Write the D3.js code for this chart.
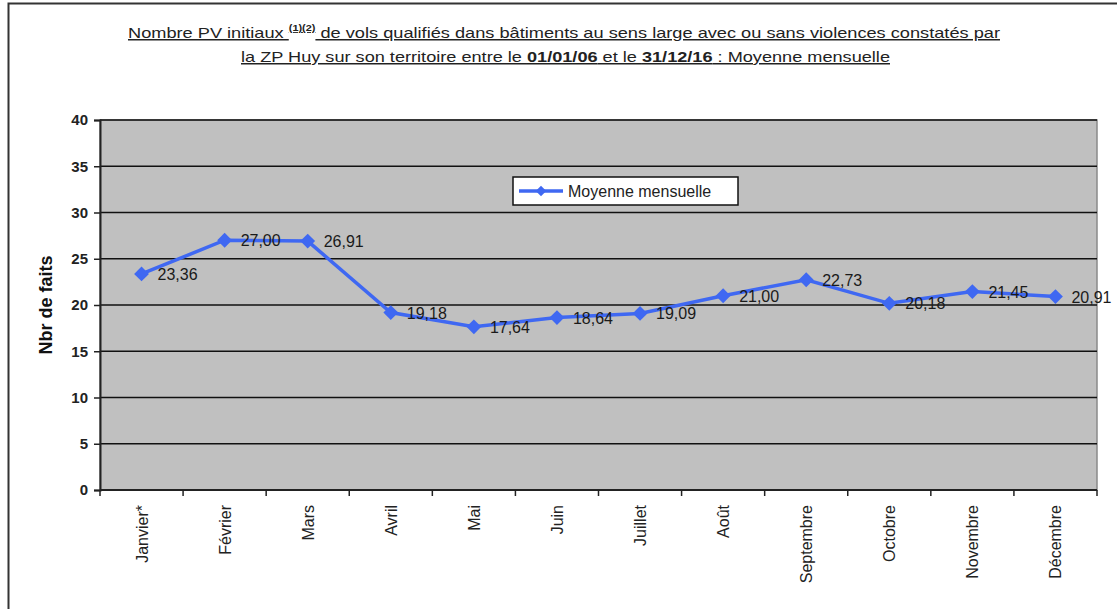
<!DOCTYPE html>
<html>
<head>
<meta charset="utf-8">
<script src="https://cdn.jsdelivr.net/npm/d3@7"></script>
<style>
  html, body { margin: 0; padding: 0; background: #fff; }
  svg { display: block; font-family: "Liberation Sans", Arial, sans-serif; }
</style>
</head>
<body>
<svg id="chart" width="1117" height="609"></svg>
<script>
// Monthly averages of initial reports, 2006–2016
const months = ["Janvier*", "Février", "Mars", "Avril", "Mai", "Juin", "Juillet", "Août", "Septembre", "Octobre", "Novembre", "Décembre"];
const moyenne = [23.36, 27.00, 26.91, 19.18, 17.64, 18.64, 19.09, 21.00, 22.73, 20.18, 21.45, 20.91];
const yTicks = [0, 5, 10, 15, 20, 25, 30, 35, 40];
const seriesName = "Moyenne mensuelle";
const yTitle = "Nbr de faits";

const svg = d3.select("#chart");
const W = 1117, H = 609;
const plot = { left: 100, top: 120, right: 1097, bottom: 490 };
const blue = "#3f68f2";

// outer frame
svg.append("rect")
  .attr("x", 8.5).attr("y", 3.5)
  .attr("width", W + 10).attr("height", H + 10)
  .attr("fill", "#fff").attr("stroke", "#333").attr("stroke-width", 2);

const x = d3.scaleBand().domain(months).range([plot.left, plot.right]);
const y = d3.scaleLinear().domain([0, 40]).range([plot.bottom, plot.top]);

// plot background
svg.append("rect")
  .attr("x", plot.left).attr("y", plot.top)
  .attr("width", plot.right - plot.left).attr("height", plot.bottom - plot.top)
  .attr("fill", "#c0c0c0").attr("stroke", "#8a8a8a").attr("stroke-width", 1.5);

// horizontal gridlines
svg.append("g").selectAll("line").data(yTicks.filter(d => d > 0)).join("line")
  .attr("x1", plot.left).attr("x2", plot.right)
  .attr("y1", d => y(d)).attr("y2", d => y(d))
  .attr("stroke", "#111").attr("stroke-width", 1.5);

// y axis
const yAxis = svg.append("g")
  .attr("transform", `translate(${plot.left},0)`)
  .call(d3.axisLeft(y).tickValues(yTicks).tickSize(6).tickPadding(6));
yAxis.select(".domain").attr("stroke", "#222").attr("stroke-width", 2);
yAxis.selectAll(".tick line").attr("stroke", "#222").attr("stroke-width", 1.5);
yAxis.selectAll(".tick text")
  .attr("font-family", "Liberation Sans, Arial, sans-serif")
  .attr("font-size", 15).attr("font-weight", "bold").attr("fill", "#222");

// x axis with ticks between categories
const xAxisG = svg.append("g");
xAxisG.append("line")
  .attr("x1", plot.left).attr("x2", plot.right)
  .attr("y1", plot.bottom).attr("y2", plot.bottom)
  .attr("stroke", "#222").attr("stroke-width", 2);
const bounds = months.map(m => x(m)).concat([plot.right]);
xAxisG.selectAll("line.tk").data(bounds).join("line")
  .attr("class", "tk")
  .attr("x1", d => d).attr("x2", d => d)
  .attr("y1", plot.bottom).attr("y2", plot.bottom + 6)
  .attr("stroke", "#222").attr("stroke-width", 1.5);
xAxisG.selectAll("text").data(months).join("text")
  .attr("transform", d => `translate(${x(d) + x.bandwidth() / 2 + 6},${plot.bottom + 15}) rotate(-90)`)
  .attr("text-anchor", "end")
  .attr("font-size", 16).attr("fill", "#222")
  .text(d => d);

// y axis title
svg.append("text")
  .attr("transform", `translate(52,${(plot.top + plot.bottom) / 2}) rotate(-90)`)
  .attr("text-anchor", "middle")
  .attr("font-size", 18).attr("font-weight", "bold").attr("fill", "#111")
  .text(yTitle);

// title, two underlined lines
const t1 = svg.append("text")
  .attr("x", 128).attr("y", 38)
  .attr("font-size", 15).attr("fill", "#222")
  .attr("text-decoration", "underline")
  .attr("textLength", 872).attr("lengthAdjust", "spacingAndGlyphs");
t1.append("tspan").text("Nombre PV initiaux ");
t1.append("tspan").attr("font-size", 9).attr("font-weight", "bold").attr("dy", -7).text("(1)(2)");
t1.append("tspan").attr("dy", 7).text(" de vols qualifiés dans bâtiments au sens large avec ou sans violences constatés par");

const t2 = svg.append("text")
  .attr("x", 241).attr("y", 62)
  .attr("font-size", 15).attr("fill", "#222")
  .attr("text-decoration", "underline")
  .attr("textLength", 649).attr("lengthAdjust", "spacingAndGlyphs");
t2.append("tspan").text("la ZP Huy sur son territoire entre le ");
t2.append("tspan").attr("font-weight", "bold").text("01/01/06");
t2.append("tspan").text(" et le ");
t2.append("tspan").attr("font-weight", "bold").text("31/12/16");
t2.append("tspan").text(" : Moyenne mensuelle");

// series line
const cx = d => x(d) + x.bandwidth() / 2;
const line = d3.line().x((d, i) => cx(months[i])).y(d => y(d));
svg.append("path")
  .datum(moyenne)
  .attr("d", line)
  .attr("fill", "none").attr("stroke", blue).attr("stroke-width", 3.5);

// diamond markers (squares turned 45°)
const marker = d3.symbol().type(d3.symbolSquare).size(110);
svg.append("g").selectAll("path").data(moyenne).join("path")
  .attr("transform", (d, i) => `translate(${cx(months[i])},${y(d)}) rotate(45)`)
  .attr("d", marker)
  .attr("fill", blue);

// value labels
const fmt = v => v.toFixed(2).replace(".", ",");
svg.append("g").selectAll("text").data(moyenne).join("text")
  .attr("x", (d, i) => cx(months[i]) + 16)
  .attr("y", d => y(d) + 6)
  .attr("font-size", 16).attr("fill", "#1a1a1a")
  .text(d => fmt(d));

// legend
const lg = svg.append("g").attr("transform", "translate(513,177)");
lg.append("rect").attr("width", 225).attr("height", 28)
  .attr("fill", "#fff").attr("stroke", "#111").attr("stroke-width", 1.5);
lg.append("line").attr("x1", 6).attr("x2", 50).attr("y1", 14).attr("y2", 14)
  .attr("stroke", blue).attr("stroke-width", 3.5);
lg.append("path").attr("transform", "translate(28,14) rotate(45)")
  .attr("d", d3.symbol().type(d3.symbolSquare).size(55)).attr("fill", blue);
lg.append("text").attr("x", 55).attr("y", 20)
  .attr("font-size", 16).attr("fill", "#222").text(seriesName);
</script>
</body>
</html>
